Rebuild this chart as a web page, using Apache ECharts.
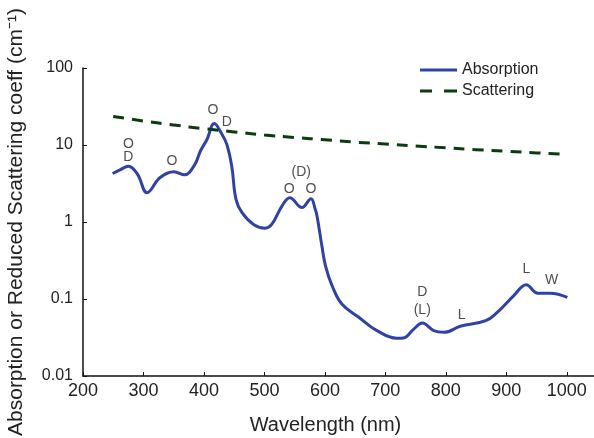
<!DOCTYPE html>
<html>
<head>
    <meta charset="UTF-8">
    <title>Absorption and scattering</title>
    <script src="https://cdn.jsdelivr.net/npm/echarts@6/dist/echarts.min.js"></script>
    <style type="text/css">
    * { margin: 0; padding: 0; }
    body { background-color: #ffffff; }
    #chart { width: 594px; height: 438px; }
    </style>
</head>
<body>
<div id="chart"></div>
<script>
    // absorption curve (nm, cm-1)
    var absWave = [249, 262, 275, 290, 306, 327, 350, 368, 385, 394, 405, 417, 430, 438, 446, 453, 463, 482, 501, 512, 529, 542, 562, 577, 584, 587, 595, 601, 612, 628, 656, 686, 719, 730, 747, 761, 780, 797, 824, 866, 885, 912, 933, 952, 973, 1001];
    var absValue = [4.27, 4.8, 5.3, 4.2, 2.4, 3.76, 4.5, 4.1, 5.6, 8.3, 11.8, 19, 13.7, 10.1, 5.3, 1.97, 1.32, 0.93, 0.83, 0.93, 1.61, 2.07, 1.54, 2.01, 1.46, 1.2, 0.49, 0.27, 0.148, 0.086, 0.058, 0.0388, 0.0309, 0.0312, 0.0407, 0.0487, 0.0388, 0.0369, 0.0442, 0.0523, 0.067, 0.110, 0.153, 0.119, 0.119, 0.105];

    // reduced scattering
    var scatWave = [250, 300, 350, 400, 450, 500, 550, 600, 650, 700, 750, 800, 850, 900, 950, 1000];
    var scatValue = [23.5, 20.5, 18.2, 16.3, 14.8, 13.5, 12.5, 11.7, 10.9, 10.3, 9.7, 9.2, 8.7, 8.3, 7.9, 7.6];

    // peak labels
    var noteText = ['O', 'D', 'O', 'O', 'D', '(D)', 'O', 'O', 'D', '(L)', 'L', 'L', 'W'];
    var noteWave = [275, 275, 347, 415, 438, 561, 541, 577, 761, 761, 826, 933, 975];
    var noteValue = [10.4, 6.86, 6.1, 28.7, 20.1, 4.4, 2.65, 2.65, 0.123, 0.072, 0.062, 0.245, 0.176];

    var absData = absWave.map(function (w, i) { return [w, absValue[i]]; });
    var scatData = scatWave.map(function (w, i) { return [w, scatValue[i]]; });
    var noteData = noteWave.map(function (w, i) { return { value: [w, noteValue[i]], name: noteText[i] }; });

    var chart = echarts.init(document.getElementById('chart'), null, {renderer: 'canvas'});
    var font = 'Liberation Sans, Arial, sans-serif';

    chart.setOption({
        animation: false,
        textStyle: { fontFamily: font },
        grid: { left: 83, right: 0, top: 68, bottom: 62, outerBoundsMode: 'none' },
        legend: {
            left: 420, top: 62, padding: 0,
            orient: 'vertical',
            itemWidth: 37, itemHeight: 3, itemGap: 5,
            textStyle: { fontSize: 16, color: '#222', fontFamily: font },
            data: [
                { name: 'Absorption', icon: 'path://M0,0 L37,0 L37,3 L0,3 Z' },
                { name: 'Scattering', icon: 'path://M0,0 L12,0 L12,3 L0,3 Z M24,0 L37,0 L37,3 L24,3 Z' }
            ]
        },
        xAxis: {
            type: 'value', min: 200, max: 1045, interval: 100,
            name: 'Wavelength (nm)', nameLocation: 'middle', nameGap: 39,
            nameTextStyle: { fontSize: 20, color: '#222', padding: [0, 26, 0, 0] },
            axisLine: { lineStyle: { color: '#111', width: 1.5 } },
            axisTick: { inside: true, length: 4, lineStyle: { color: '#111' } },
            axisLabel: {
                fontSize: 18, color: '#222', margin: 6,
                formatter: function (v) { return v % 100 === 0 && v <= 1000 ? String(v) : ''; }
            },
            splitLine: { show: false }
        },
        yAxis: {
            type: 'log', min: 0.01, max: 100, logBase: 10,
            name: 'Absorption or Reduced Scattering coeff (cm\u207B\u00B9)',
            nameLocation: 'middle', nameGap: 56,
            nameTextStyle: { fontSize: 21, color: '#222' },
            axisLine: { show: true, lineStyle: { color: '#111', width: 1.5 } },
            axisTick: { show: true, inside: true, length: 4, lineStyle: { color: '#111' } },
            axisLabel: {
                fontSize: 16, color: '#222', margin: 10,
                formatter: function (v) { return String(+v.toPrecision(3)); }
            },
            minorTick: { show: false },
            splitLine: { show: false }
        },
        series: [
            {
                name: 'Absorption', type: 'line', data: absData,
                smooth: 0.4, showSymbol: false, symbol: 'none',
                lineStyle: { color: '#3142a6', width: 3 },
                itemStyle: { color: '#3142a6' }
            },
            {
                name: 'Scattering', type: 'line', data: scatData,
                smooth: true, showSymbol: false, symbol: 'none',
                lineStyle: { color: '#0b3b10', width: 3, type: [11, 8] },
                itemStyle: { color: '#0b3b10' }
            },
            {
                name: 'notes', type: 'scatter', data: noteData,
                symbolSize: 0, silent: true,
                label: {
                    show: true, position: 'inside', formatter: '{b}',
                    fontSize: 14, color: '#222', fontFamily: font
                }
            }
        ]
    });
</script>
</body>
</html>
